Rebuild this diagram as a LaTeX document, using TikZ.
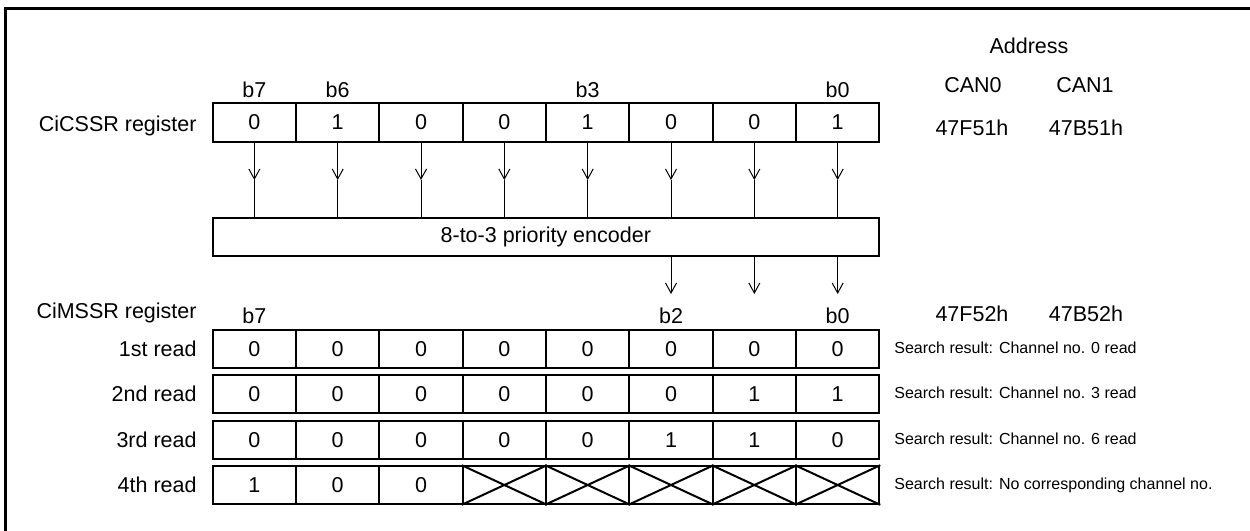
\documentclass[tikz,border=0pt]{standalone}
\usepackage{fontspec}
\setmainfont{Liberation Sans}
\usetikzlibrary{arrows.meta}

\tikzset{
  bitcell/.style={draw, line width=1pt, minimum width=41.65pt, minimum height=18.8pt, inner sep=0pt, font=\fontsize{10.75}{13}\selectfont},
  lbl/.style={anchor=base, inner sep=0pt, font=\fontsize{10.75}{13}\selectfont},
  note/.style={anchor=base west, inner sep=0pt, font=\fontsize{8}{10}\selectfont},
  flow/.style={line width=0.5pt, -{Straight Barb[length=5pt,width=5.5pt]}},
}

\begin{document}
\begin{tikzpicture}[x=0.5pt,y=-0.5pt]
\useasboundingbox (0,0) rectangle (1250,531);
\draw[line width=1.3pt] (5.3,540) -- (5.3,8.7) -- (1260,8.7);

% CiCSSR register
\foreach \v [count=\i] in {0,1,0,0,1,0,0,1}
  \node[bitcell, minimum height=19.3pt] (s\i) at (212.7+83.33*\i-41.67,122.3) {\v};
\path(197,131) node[lbl, anchor=base east] (sreg) {CiCSSR register};
\path(254.3,97.5) node[lbl] (sb7) {b7};
\path(337.7,97.5) node[lbl] (sb6) {b6};
\path(587.7,97.5) node[lbl] (sb3) {b3};
\path(837.7,97.5) node[lbl] (sb0) {b0};

% address columns
\path(1029,53) node[lbl] (addr) {Address};
\path(973,92.7) node[lbl] (can0) {CAN0};
\path(1085,92.7) node[lbl] (can1) {CAN1};
\path(972,135) node[lbl] (sa0) {47F51h};
\path(1086,135) node[lbl] (sa1) {47B51h};

% encoder
\node[draw, line width=1pt, minimum width=333.2pt, minimum height=19.2pt, inner sep=0pt,
  font=\fontsize{10.75}{13}\selectfont] (enc) at (545.8,236.8) {8-to-3 priority encoder};
\coordinate (inrow) at (0,180);
\coordinate (outrow) at (0,294);
\foreach \i in {1,...,8}{
  \coordinate (t\i) at (s\i.south |- inrow);
  \draw[flow] (s\i) -- (t\i);
  \draw[line width=0.5pt] (t\i) -- (t\i |- enc.north);
}
\foreach \i in {6,7,8}{
  \coordinate (o\i) at (s\i.south |- outrow);
  \draw[flow] (enc.south -| o\i) -- (o\i);
}

% CiMSSR register
\path(197,318.7) node[lbl, anchor=base east] (mreg) {CiMSSR register};
\path(254.3,323.3) node[lbl] (mb7) {b7};
\path(671,323.3) node[lbl] (mb2) {b2};
\path(837.7,323.3) node[lbl] (mb0) {b0};
\path(972,321.7) node[lbl] (ma0) {47F52h};
\path(1086,321.7) node[lbl] (ma1) {47B52h};

\foreach \v [count=\i] in {0,0,0,0,0,0,0,0}
  \node[bitcell] (ra\i) at (212.7+83.33*\i-41.67,348.7) {\v};
\foreach \v [count=\i] in {0,0,0,0,0,0,1,1}
  \node[bitcell] (rb\i) at (212.7+83.33*\i-41.67,394.1) {\v};
\foreach \v [count=\i] in {0,0,0,0,0,1,1,0}
  \node[bitcell] (rc\i) at (212.7+83.33*\i-41.67,439.7) {\v};
\foreach \v [count=\i] in {1,0,0,{},{},{},{},{}}
  \node[bitcell] (rd\i) at (212.7+83.33*\i-41.67,485) {\v};
\foreach \i in {4,...,8}
  \draw[line width=1pt] (rd\i.north west) -- (rd\i.south east) (rd\i.south west) -- (rd\i.north east);

\path(197,356.4) node[lbl, anchor=base east] (la) {1st read};
\path(197,401.8) node[lbl, anchor=base east] (lb) {2nd read};
\path(197,447.4) node[lbl, anchor=base east] (lc) {3rd read};
\path(197,492.7) node[lbl, anchor=base east] (ld) {4th read};

\path(894,353) node[note] (na) {Search result: Channel no. 0 read};
\path(894,398.4) node[note] (nb) {Search result: Channel no. 3 read};
\path(894,444) node[note] (nc) {Search result: Channel no. 6 read};
\path(894,489.3) node[note] (nd) {Search result: No corresponding channel no.};
\end{tikzpicture}
\end{document}
